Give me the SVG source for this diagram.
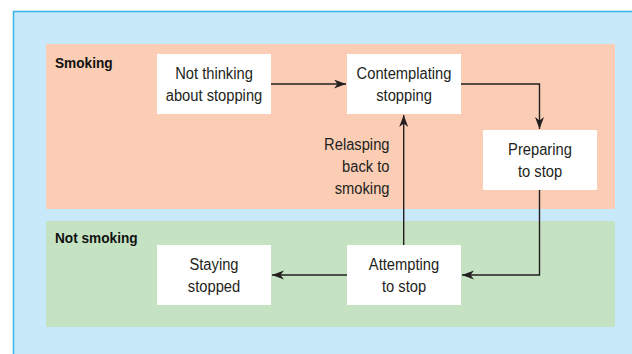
<svg xmlns="http://www.w3.org/2000/svg" width="632" height="354" viewBox="0 0 632 354">
<defs>
<style>
.lbl{font-family:"Liberation Sans",Arial,sans-serif;font-size:16px;fill:#231f20;text-anchor:middle}
.rl{font-family:"Liberation Sans",Arial,sans-serif;font-size:16px;fill:#231f20;text-anchor:end}
.hd{font-family:"Liberation Sans",Arial,sans-serif;font-size:15px;font-weight:bold;fill:#111}
.box{fill:#ffffff}
.con{fill:none;stroke:#231f20;stroke-width:1.4}
</style>
<marker id="arr" markerUnits="userSpaceOnUse" markerWidth="14" markerHeight="10" refX="12" refY="4.5" orient="auto">
<path d="M0,0 L12,4.5 L0,9 L3.5,4.5 z" fill="#231f20"/>
</marker>
</defs>
<rect x="0" y="0" width="632" height="354" fill="#ffffff"/>
<rect x="13.5" y="11.5" width="630" height="350" fill="#c7e9f9" stroke="#3bb3e8" stroke-width="1.5"/>
<g id="region-smoking">
<rect x="46" y="44" width="569" height="165" fill="#fbcdb5"/>
<text class="hd" transform="translate(55,68.3) scale(0.91,1)">Smoking</text>
</g>
<g id="region-not-smoking">
<rect x="46" y="221" width="569" height="106" fill="#c5e3c3"/>
<text class="hd" transform="translate(55,243.3) scale(0.91,1)">Not smoking</text>
</g>
<g id="connectors">
<path class="con" d="M271,84 L346,84" marker-end="url(#arr)"/>
<path class="con" d="M461,84 L539.5,84 L539.5,129" marker-end="url(#arr)"/>
<path class="con" d="M539.5,190 L539.5,275 L462,275" marker-end="url(#arr)"/>
<path class="con" d="M347,275 L272,275" marker-end="url(#arr)"/>
<path class="con" d="M403.7,245 L403.7,115" marker-end="url(#arr)"/>
<g id="label-relapsing">
<text class="rl" transform="translate(389.5,150) scale(0.92,1)">Relasping</text>
<text class="rl" transform="translate(389.5,172) scale(0.92,1)">back to</text>
<text class="rl" transform="translate(389.5,194) scale(0.92,1)">smoking</text>
</g>
</g>
<g id="node-not-thinking">
<rect class="box" x="157" y="54" width="114" height="60"/>
<text class="lbl" transform="translate(214,79) scale(0.92,1)">Not thinking</text>
<text class="lbl" transform="translate(214,101) scale(0.92,1)">about stopping</text>
</g>
<g id="node-contemplating">
<rect class="box" x="347" y="54" width="114" height="60"/>
<text class="lbl" transform="translate(404,79) scale(0.92,1)">Contemplating</text>
<text class="lbl" transform="translate(404,101) scale(0.92,1)">stopping</text>
</g>
<g id="node-preparing">
<rect class="box" x="483" y="130" width="114" height="60"/>
<text class="lbl" transform="translate(540,155) scale(0.92,1)">Preparing</text>
<text class="lbl" transform="translate(540,177) scale(0.92,1)">to stop</text>
</g>
<g id="node-attempting">
<rect class="box" x="347" y="245" width="114" height="60"/>
<text class="lbl" transform="translate(404,270) scale(0.92,1)">Attempting</text>
<text class="lbl" transform="translate(404,292) scale(0.92,1)">to stop</text>
</g>
<g id="node-staying">
<rect class="box" x="157" y="245" width="114" height="60"/>
<text class="lbl" transform="translate(214,270) scale(0.92,1)">Staying</text>
<text class="lbl" transform="translate(214,292) scale(0.92,1)">stopped</text>
</g>
</svg>
